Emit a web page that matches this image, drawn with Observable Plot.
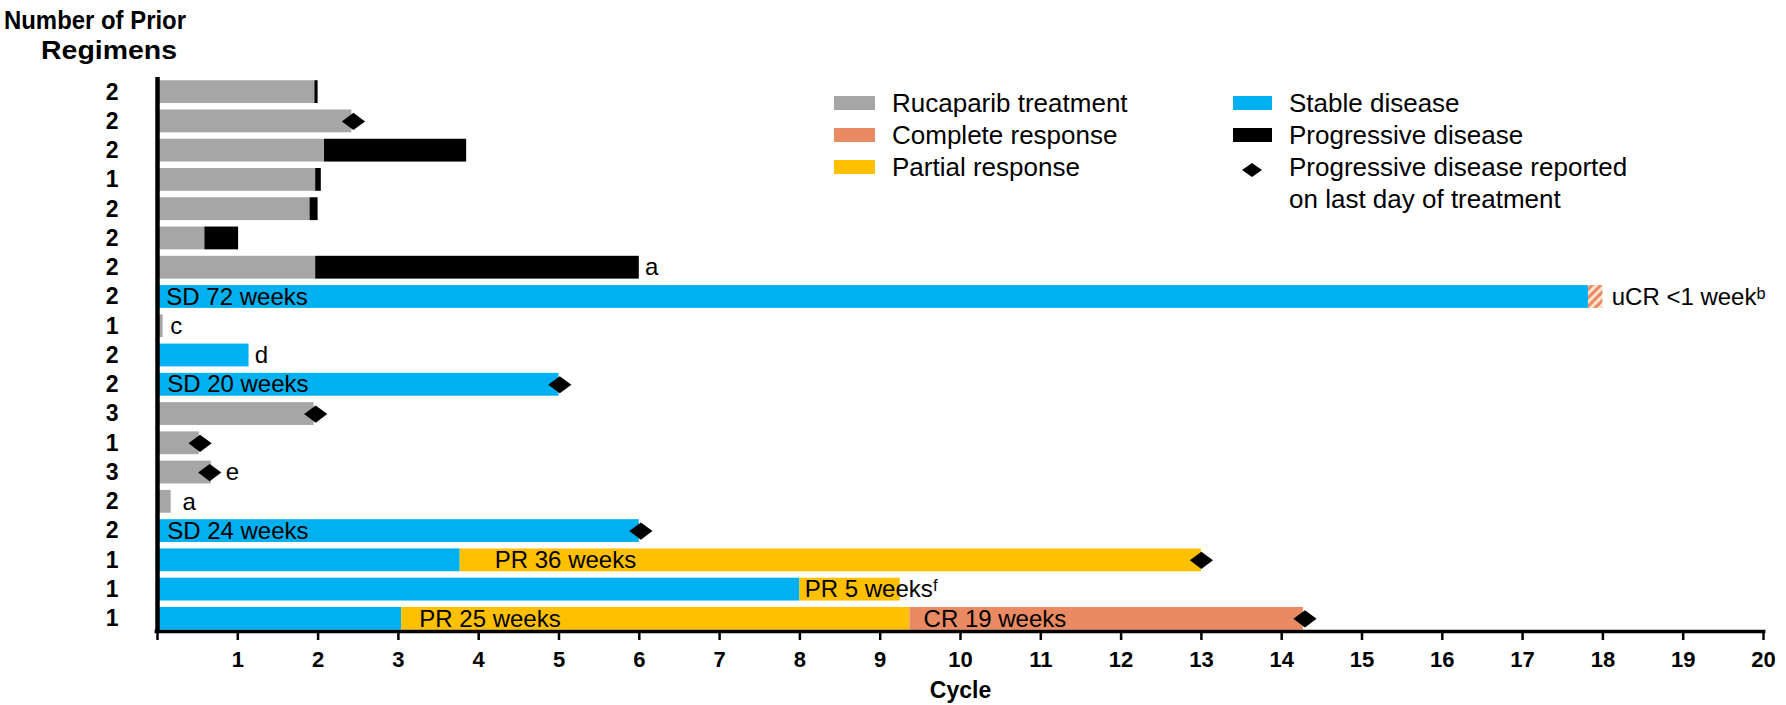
<!DOCTYPE html>
<html>
<head>
<meta charset="utf-8">
<script src="https://cdn.jsdelivr.net/npm/d3@7"></script>
<script src="https://cdn.jsdelivr.net/npm/@observablehq/plot@0.6"></script>
<style>
  html, body { margin: 0; padding: 0; background: #fff; }
  #chart { position: relative; width: 1786px; height: 705px; }
</style>
</head>
<body>
<div id="chart"></div>
<script>
// Number of prior regimens, one entry per patient row (top to bottom)
const regimens = [2, 2, 2, 1, 2, 2, 2, 2, 1, 2, 2, 3, 1, 3, 2, 2, 1, 1, 1];

// Swimmer bar segments, in treatment cycles
const segRow    = [0, 0, 1, 2, 2, 3, 3, 4, 4, 5, 5, 6, 6, 7, 7, 8, 9, 10, 11, 12, 13, 14, 15, 16, 16, 17, 17, 18, 18, 18];
const segStart  = [0, 1.96, 0, 0, 2.08, 0, 1.97, 0, 1.90, 0, 0.59, 0, 1.97, 0, 17.82, 0, 0, 0, 0, 0, 0, 0, 0, 0, 3.77, 0, 8.0, 0, 3.04, 9.37];
const segEnd    = [1.96, 2.0, 2.42, 2.08, 3.85, 1.97, 2.04, 1.90, 2.0, 0.59, 1.01, 1.97, 6.0, 17.82, 18.0, 0.07, 1.14, 5.0, 1.95, 0.52, 0.67, 0.17, 6.0, 3.77, 13.0, 8.0, 9.25, 3.04, 9.37, 14.27];
const segStatus = ["T", "PD", "T", "T", "PD", "T", "PD", "T", "PD", "T", "PD", "T", "PD", "SD", "uCR", "T", "SD", "SD", "T", "T", "T", "T", "SD", "SD", "PR", "SD", "PR", "SD", "PR", "CR"];

// Progressive disease reported on the last day of treatment
const pdRow = [1, 10, 11, 12, 13, 15, 16, 18];
const pdX   = [2.44, 5.01, 1.97, 0.53, 0.65, 6.02, 13.0, 14.29];

// Annotations placed along the rows
const labRow  = [6, 7, 7, 8, 9, 10, 13, 14, 15, 16, 17, 18, 18];
const labX    = [6.07, 0.11, 18.11, 0.16, 1.21, 0.12, 0.85, 0.31, 0.12, 4.2, 8.06, 3.26, 9.54];
const labText = ["a", "SD 72 weeks", "uCR <1 week\u1d47", "c", "d", "SD 20 weeks", "e", "a", "SD 24 weeks",
                 "PR 36 weeks", "PR 5 weeks\u1da0", "PR 25 weeks", "CR 19 weeks"];

// Cycle ticks on the x axis
const cycleTicks = d3.range(0, 21);

// Legend entries
const legendLeft  = [["T", "Rucaparib treatment"], ["CR", "Complete response"], ["PR", "Partial response"]];
const legendRight = [["SD", "Stable disease"], ["PD", "Progressive disease"]];
const legendDiamondText = ["Progressive disease reported", "on last day of treatment"];

const statusColor = {
  T: "#a6a6a6",
  SD: "#00b0f0",
  PD: "#000000",
  PR: "#ffc000",
  CR: "#e98a63",
  uCR: "url(#ucr-hatch)"
};

const segments = segRow.map((r, i) => ({row: r, start: segStart[i], end: segEnd[i], status: segStatus[i]}));
const diamonds = pdRow.map((r, i) => ({row: r, x: pdX[i]}));
const labels = labRow.map((r, i) => ({row: r, x: labX[i], text: labText[i]}));

// Wide, flat diamond marker
const diamond = {
  draw(context) {
    const w = 11.6, h = 8.6;
    context.moveTo(0, -h);
    context.lineTo(w, 0);
    context.lineTo(0, h);
    context.lineTo(-w, 0);
    context.closePath();
  }
};

const half = 0.39; // half bar thickness, in row units
const FONT = "'Liberation Sans', Arial, Helvetica, sans-serif";

const svg = Plot.plot({
  width: 1786,
  height: 705,
  marginLeft: 157,
  marginRight: 23,
  marginTop: 77,
  marginBottom: 72,
  style: {fontFamily: FONT, background: "#fff", color: "#000"},
  x: {domain: [0, 20]},
  y: {domain: [18.5, -0.5]},
  color: {type: "identity"},
  marks: [
    Plot.rectX(segments, {
      x1: "start", x2: "end",
      y1: d => d.row - half, y2: d => d.row + half,
      fill: d => statusColor[d.status]
    }),
    Plot.dot(diamonds, {x: "x", y: "row", symbol: diamond, fill: "#000", stroke: "none", r: 5}),
    Plot.text(labels, {
      x: "x", y: "row", text: "text",
      textAnchor: "start", lineAnchor: "middle",
      fontSize: 24, fill: "#000"
    }),
    Plot.ruleX([0], {stroke: "#000", strokeWidth: 4.5}),
    Plot.ruleY([18.43], {x1: -0.03, x2: 20.03, stroke: "#000", strokeWidth: 3.5}),
    Plot.axisX({
      ticks: cycleTicks,
      tickFormat: d => d === 0 ? "" : String(d),
      tickSize: 7, tickPadding: 11, strokeWidth: 2.5,
      fontSize: 22, fontWeight: "bold", label: null
    }),
    Plot.axisY({
      ticks: d3.range(regimens.length),
      tickFormat: i => String(regimens[i]),
      tickSize: 0, tickPadding: 39,
      fontSize: 23, fontWeight: "bold", label: null
    }),
    Plot.text(["Cycle"], {
      frameAnchor: "bottom", dy: 57, lineAnchor: "middle",
      fontSize: 23, fontWeight: "bold", fill: "#000"
    })
  ]
});

const root = d3.select(svg);

// Hatch pattern for the unconfirmed complete response
const defs = root.insert("defs", ":first-child");
const pat = defs.append("pattern")
  .attr("id", "ucr-hatch")
  .attr("patternUnits", "userSpaceOnUse")
  .attr("width", 6).attr("height", 6)
  .attr("patternTransform", "rotate(45)");
pat.append("rect").attr("width", 6).attr("height", 6).attr("fill", "#fde3cf");
pat.append("rect").attr("width", 3).attr("height", 6).attr("fill", "#e98a63");

// Y axis title, two centred lines
const title = root.append("g")
  .attr("font-family", FONT).attr("font-weight", "bold").attr("font-size", 25.5)
  .attr("text-anchor", "middle").attr("fill", "#000");
title.append("text").attr("x", 95).attr("y", 29)
  .attr("textLength", 182).attr("lengthAdjust", "spacingAndGlyphs").text("Number of Prior");
title.append("text").attr("x", 109).attr("y", 59)
  .attr("textLength", 136).attr("lengthAdjust", "spacingAndGlyphs").text("Regimens");

// Legend
const lg = root.append("g")
  .attr("font-family", FONT).attr("font-size", 26)
  .attr("text-anchor", "start").attr("fill", "#000");
const rowY = [103, 135, 167, 199];
const capShift = 26 * 0.358;
legendLeft.forEach(([k, t], i) => {
  lg.append("rect").attr("x", 834).attr("y", rowY[i] - 7).attr("width", 41).attr("height", 14)
    .attr("fill", statusColor[k]);
  lg.append("text").attr("x", 892).attr("y", rowY[i] + capShift).text(t);
});
legendRight.forEach(([k, t], i) => {
  lg.append("rect").attr("x", 1233).attr("y", rowY[i] - 7).attr("width", 39).attr("height", 14)
    .attr("fill", statusColor[k]);
  lg.append("text").attr("x", 1289).attr("y", rowY[i] + capShift).text(t);
});
lg.append("path")
  .attr("d", d3.symbol(diamond)())
  .attr("transform", "translate(1252,170) scale(0.86,0.8)")
  .attr("fill", "#000");
legendDiamondText.forEach((t, i) => {
  lg.append("text").attr("x", 1289).attr("y", rowY[2 + i] + capShift).text(t);
});

document.getElementById("chart").appendChild(svg);
</script>
</body>
</html>
